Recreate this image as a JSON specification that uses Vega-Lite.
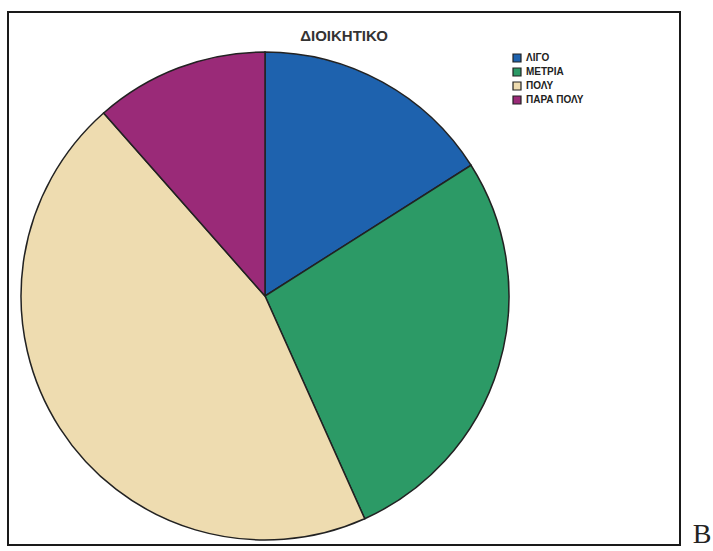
{
  "$schema": "https://vega.github.io/schema/vega-lite/v6.json",
  "width": 672,
  "height": 533,
  "autosize": "none",
  "padding": {"left": 8, "top": 12, "right": 33, "bottom": 6},
  "background": "white",
  "view": {"stroke": "#1a1a1a", "strokeWidth": 2, "fill": "white"},
  "config": {"view": {"stroke": "#1a1a1a", "strokeWidth": 2}},
  "title": {
    "text": "ΔΙΟΙΚΗΤΙΚΟ",
    "font": "Liberation Sans",
    "fontSize": 15,
    "fontWeight": "bold",
    "color": "#333333",
    "anchor": "middle",
    "baseline": "top",
    "frame": "group",
    "offset": -32
  },
  "layer": [
    {
      "data": {
        "values": [
          {"k": "ΛΙΓΟ", "v": 16.0, "o": 1},
          {"k": "ΜΕΤΡΙΑ", "v": 27.3, "o": 2},
          {"k": "ΠΟΛΥ", "v": 45.2, "o": 3},
          {"k": "ΠΑΡΑ ΠΟΛΥ", "v": 11.5, "o": 4}
        ]
      },
      "mark": {
        "type": "arc",
        "x": 257,
        "y": 284,
        "outerRadius": 244,
        "stroke": "#222222",
        "strokeWidth": 1.5
      },
      "encoding": {
        "theta": {"field": "v", "type": "quantitative", "stack": true},
        "order": {"field": "o", "type": "quantitative"},
        "color": {
          "field": "k",
          "type": "nominal",
          "scale": {
            "domain": ["ΛΙΓΟ", "ΜΕΤΡΙΑ", "ΠΟΛΥ", "ΠΑΡΑ ΠΟΛΥ"],
            "range": ["#1e62ae", "#2c9a66", "#eedcb0", "#9a2a78"]
          },
          "legend": {
            "orient": "none",
            "legendX": 504,
            "legendY": 41,
            "title": null,
            "symbolType": "square",
            "symbolSize": 64,
            "symbolStrokeColor": "#222222",
            "symbolStrokeWidth": 1.2,
            "labelFont": "Liberation Sans",
            "labelFontSize": 10,
            "labelFontWeight": "bold",
            "labelColor": "#222222",
            "rowPadding": 0,
            "labelOffset": 4
          }
        }
      }
    },
    {
      "data": {"values": [{"t": "B"}]},
      "mark": {
        "type": "text",
        "x": {"expr": "width + 22"},
        "y": {"expr": "height + 4"},
        "align": "center",
        "baseline": "bottom",
        "font": "Liberation Serif",
        "fontSize": 28,
        "color": "#222222"
      },
      "encoding": {"text": {"field": "t"}}
    }
  ]
}
